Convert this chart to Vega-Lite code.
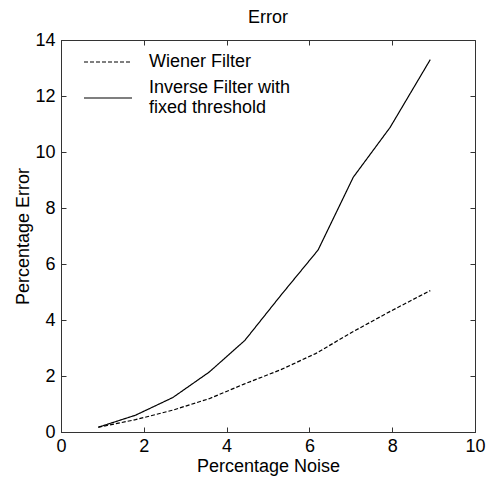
{
  "$schema": "https://vega.github.io/schema/vega-lite/v6.json",
  "autosize": "none",
  "width": 414,
  "height": 392,
  "padding": {"left": 61, "top": 40, "right": 12, "bottom": 48},
  "background": "white",
  "title": {"text": "Error", "fontSize": 18, "font": "Liberation Sans", "fontWeight": "normal", "color": "black", "offset": 4},
  "data": {"values": [
    {"noise": 0.9, "error": 0.17, "series": "Wiener Filter"},
    {"noise": 1.8, "error": 0.44, "series": "Wiener Filter"},
    {"noise": 2.7, "error": 0.78, "series": "Wiener Filter"},
    {"noise": 3.58, "error": 1.19, "series": "Wiener Filter"},
    {"noise": 4.42, "error": 1.71, "series": "Wiener Filter"},
    {"noise": 5.3, "error": 2.22, "series": "Wiener Filter"},
    {"noise": 6.15, "error": 2.8, "series": "Wiener Filter"},
    {"noise": 7.05, "error": 3.58, "series": "Wiener Filter"},
    {"noise": 7.98, "error": 4.33, "series": "Wiener Filter"},
    {"noise": 8.92, "error": 5.05, "series": "Wiener Filter"},
    {"noise": 0.9, "error": 0.17, "series": "Inverse Filter with fixed threshold"},
    {"noise": 1.8, "error": 0.6, "series": "Inverse Filter with fixed threshold"},
    {"noise": 2.7, "error": 1.23, "series": "Inverse Filter with fixed threshold"},
    {"noise": 3.58, "error": 2.14, "series": "Inverse Filter with fixed threshold"},
    {"noise": 4.44, "error": 3.27, "series": "Inverse Filter with fixed threshold"},
    {"noise": 5.32, "error": 4.9, "series": "Inverse Filter with fixed threshold"},
    {"noise": 6.21, "error": 6.5, "series": "Inverse Filter with fixed threshold"},
    {"noise": 7.06, "error": 9.1, "series": "Inverse Filter with fixed threshold"},
    {"noise": 7.95, "error": 10.88, "series": "Inverse Filter with fixed threshold"},
    {"noise": 8.92, "error": 13.3, "series": "Inverse Filter with fixed threshold"}
  ]},
  "layer": [
    {
      "mark": {"type": "line", "color": "black", "strokeWidth": 1.2},
      "encoding": {
        "x": {"field": "noise", "type": "quantitative", "scale": {"domain": [0, 10], "nice": false},
              "axis": {"orient": "bottom", "title": "Percentage Noise", "values": [0, 2, 4, 6, 8, 10], "grid": false, "tickSize": -5, "labelPadding": 10, "titlePadding": 2, "labelFlush": false}},
        "y": {"field": "error", "type": "quantitative", "scale": {"domain": [0, 14], "nice": false},
              "axis": {"orient": "left", "title": "Percentage Error", "values": [0, 2, 4, 6, 8, 10, 12, 14], "grid": false, "tickSize": -5, "labelPadding": 11, "titlePadding": 2, "labelFlush": false}},
        "strokeDash": {"field": "series", "type": "nominal",
          "scale": {"domain": ["Wiener Filter", "Inverse Filter with fixed threshold"], "range": [[4, 2], [1, 0]]},
          "legend": {"orient": "none", "legendX": 22, "legendY": -3, "title": null, "symbolType": "stroke", "symbolSize": 2304, "symbolStrokeColor": "black", "symbolStrokeWidth": 1.2, "labelFontSize": 18, "labelFont": "Liberation Sans", "labelColor": "black", "labelOffset": 16, "rowPadding": 2, "padding": 0, "labelLimit": 300, "labelLineHeight": 21,
            "labelBaseline": {"expr": "datum.value == 'Inverse Filter with fixed threshold' ? 'line-bottom' : 'middle'"},
            "labelExpr": "datum.label == 'Inverse Filter with fixed threshold' ? ['Inverse Filter with', 'fixed threshold'] : datum.label"}}
      }
    },
    {
      "mark": {"type": "line", "opacity": 0},
      "encoding": {
        "x": {"field": "noise", "type": "quantitative", "scale": {"domain": [0, 10], "nice": false},
              "axis": {"orient": "top", "title": null, "values": [0, 2, 4, 6, 8, 10], "grid": false, "tickSize": -5, "labels": false, "domain": false}},
        "y": {"field": "error", "type": "quantitative", "scale": {"domain": [0, 14], "nice": false},
              "axis": {"orient": "right", "title": null, "values": [0, 2, 4, 6, 8, 10, 12, 14], "grid": false, "tickSize": -5, "labels": false, "domain": false}},
        "detail": {"field": "series"}
      }
    }
  ],
  "resolve": {"axis": {"x": "independent", "y": "independent"}},
  "config": {
    "view": {"stroke": "#333333", "strokeWidth": 1},
    "axis": {"labelFont": "Liberation Sans", "titleFont": "Liberation Sans", "labelFontSize": 18, "titleFontSize": 18, "titleFontWeight": "normal", "labelColor": "black", "titleColor": "black", "domainColor": "#333333", "tickColor": "#333333"}
  }
}
